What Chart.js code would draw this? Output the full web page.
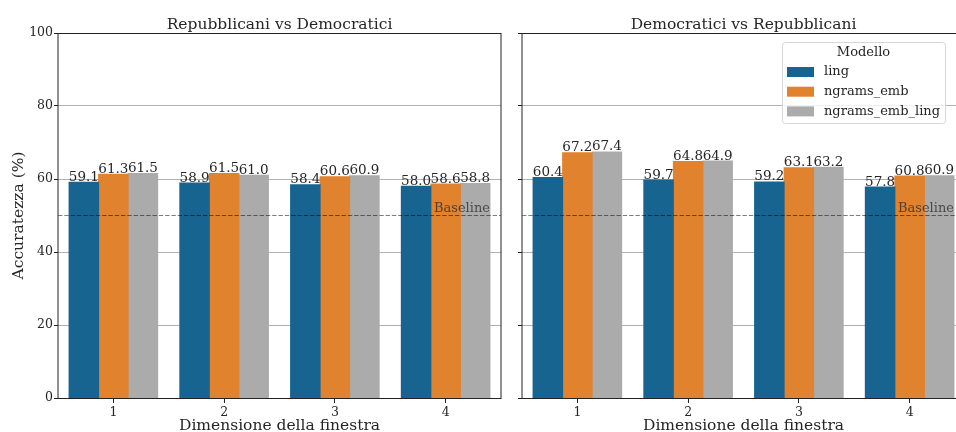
<!DOCTYPE html>
<html><head><meta charset="utf-8">
<script src="https://cdn.jsdelivr.net/npm/chart.js@4.4.1/dist/chart.umd.min.js"></script>
<style>
html,body{margin:0;padding:0;background:#fff;overflow:hidden;width:956px;height:432px;}
.panel{position:absolute;top:0;height:432px;}
#left{left:0;width:512px;}
#right{left:470px;width:510px;}
</style></head><body>
<div class="panel" id="left"><canvas id="c1"></canvas></div>
<div class="panel" id="right"><canvas id="c2"></canvas></div>
<script>
// Window sizes on the x axis and the three models compared
const windowSizes = ['1', '2', '3', '4'];
const models = ['ling', 'ngrams_emb', 'ngrams_emb_ling'];
const modelColors = ['#176491', '#e1822f', '#ababab'];

// Accuracy (%) — Repubblicani vs Democratici
const repDemLing = [59.1, 58.9, 58.4, 58.0];
const repDemNgramsEmb = [61.3, 61.5, 60.6, 58.6];
const repDemNgramsEmbLing = [61.5, 61.0, 60.9, 58.8];

// Accuracy (%) — Democratici vs Repubblicani
const demRepLing = [60.4, 59.7, 59.2, 57.8];
const demRepNgramsEmb = [67.2, 64.8, 63.1, 60.8];
const demRepNgramsEmbLing = [67.4, 64.9, 63.2, 60.9];

const yTicks = [0, 20, 40, 60, 80, 100];
const baselineValue = 50;
const baselineLabel = 'Baseline';

const FONT = "'DejaVu Serif', serif";
const TEXT = '#262626';

const panelDecor = {
  id: 'panelDecor',
  afterDatasetsDraw(chart, args, opts) {
    const {ctx, chartArea: a, scales} = chart;
    ctx.save();
    // value labels above bars
    ctx.font = `13.5px ${FONT}`;
    ctx.fillStyle = TEXT;
    ctx.textAlign = 'center';
    ctx.textBaseline = 'alphabetic';
    chart.data.datasets.forEach((ds, i) => {
      chart.getDatasetMeta(i).data.forEach((bar, j) => {
        ctx.fillText(ds.data[j].toFixed(1), bar.x, bar.y - 1.5);
      });
    });
    // baseline reference line
    const yb = scales.y.getPixelForValue(baselineValue);
    ctx.strokeStyle = 'rgba(0,0,0,0.5)';
    ctx.lineWidth = 1.2;
    ctx.setLineDash([4.4, 1.9]);
    ctx.beginPath();
    ctx.moveTo(a.left, yb);
    ctx.lineTo(a.right, yb);
    ctx.stroke();
    ctx.setLineDash([]);
    ctx.font = `13px ${FONT}`;
    ctx.fillStyle = 'rgba(30,30,30,0.7)';
    ctx.textAlign = 'right';
    ctx.fillText(baselineLabel, a.right - 11, yb - 4);
    // axes frame
    ctx.strokeStyle = '#222';
    ctx.lineWidth = 1;
    ctx.beginPath();
    ctx.moveTo(a.left, a.top + 0.5); ctx.lineTo(a.right, a.top + 0.5);
    ctx.moveTo(a.left, a.bottom + 0.5); ctx.lineTo(a.right, a.bottom + 0.5);
    ctx.moveTo(a.left, a.top); ctx.lineTo(a.left, a.bottom + 1);
    ctx.moveTo(a.right, a.top); ctx.lineTo(a.right, a.bottom + 1);
    ctx.stroke();
    // legend
    if (opts.legend) {
      const bx = a.right - 183, by = 42, bw = 163, bh = 81;
      ctx.fillStyle = 'rgba(255,255,255,0.8)';
      ctx.strokeStyle = '#d6d6d6';
      ctx.beginPath();
      ctx.roundRect(bx + 0.5, by + 0.5, bw, bh, 3);
      ctx.fill();
      ctx.stroke();
      ctx.fillStyle = TEXT;
      ctx.font = `13px ${FONT}`;
      ctx.textAlign = 'center';
      ctx.textBaseline = 'middle';
      ctx.fillText(opts.legendTitle, bx + bw / 2, by + 11);
      ctx.textAlign = 'left';
      chart.data.datasets.forEach((ds, i) => {
        const cy = by + 30 + i * 19.7;
        ctx.fillStyle = ds.backgroundColor;
        ctx.fillRect(bx + 5, cy - 5, 27, 10);
        ctx.fillStyle = TEXT;
        ctx.fillText(ds.label, bx + 42, cy);
      });
    }
    ctx.restore();
  },
  afterDraw(chart, args, opts) {
    const {ctx, chartArea: a} = chart;
    ctx.save();
    ctx.fillStyle = TEXT;
    ctx.textAlign = 'center';
    ctx.textBaseline = 'alphabetic';
    ctx.font = `15.5px ${FONT}`;
    ctx.fillText(opts.title, (a.left + a.right) / 2, 29);
    ctx.font = `15.5px ${FONT}`;
    ctx.fillText(opts.xTitle, (a.left + a.right) / 2, 430);
    if (opts.yTitle) {
      ctx.translate(23, (a.top + a.bottom) / 2);
      ctx.rotate(-Math.PI / 2);
      ctx.fillText(opts.yTitle, 0, 0);
    }
    ctx.restore();
  }
};

function makeChart(id, title, series, showYLabels, yWidth, padRight, showLegend) {
  return new Chart(document.getElementById(id), {
    type: 'bar',
    data: {
      labels: windowSizes,
      datasets: models.map((m, i) => ({
        label: m,
        data: series[i],
        backgroundColor: modelColors[i],
        borderWidth: 0,
        inflateAmount: 0.5,
        categoryPercentage: 0.8,
        barPercentage: 1.0
      }))
    },
    options: {
      responsive: true,
      maintainAspectRatio: false,
      animation: false,
      layout: {padding: {top: 33, bottom: 0, left: 0, right: padRight}},
      plugins: {
        legend: {display: false},
        tooltip: {enabled: false},
        panelDecor: {
          title: title,
          xTitle: 'Dimensione della finestra',
          yTitle: showYLabels ? 'Accuratezza (%)' : null,
          legend: showLegend,
          legendTitle: 'Modello'
        }
      },
      scales: {
        x: {
          afterFit: s => { s.height = 34; },
          grid: {drawOnChartArea: false, drawTicks: true, tickLength: 5, tickColor: '#222', offset: false},
          border: {display: false},
          ticks: {font: {family: FONT, size: 12.5}, color: TEXT, padding: 2}
        },
        y: {
          min: 0, max: 100,
          afterBuildTicks: s => { s.ticks = yTicks.map(v => ({value: v})); },
          afterFit: s => { s.width = yWidth; },
          grid: {color: '#b0b0b0', lineWidth: 1, drawTicks: true, tickLength: 4, tickColor: '#222'},
          border: {display: false},
          ticks: {
            font: {family: FONT, size: 12.5}, color: TEXT, padding: 1,
            callback: v => showYLabels ? String(v) : ''
          }
        }
      }
    },
    plugins: [panelDecor]
  });
}

makeChart('c1', 'Repubblicani vs Democratici',
  [repDemLing, repDemNgramsEmb, repDemNgramsEmbLing], true, 58, 11, false);
makeChart('c2', 'Democratici vs Repubblicani',
  [demRepLing, demRepNgramsEmb, demRepNgramsEmbLing], false, 52, 15, true);
</script></body></html>
